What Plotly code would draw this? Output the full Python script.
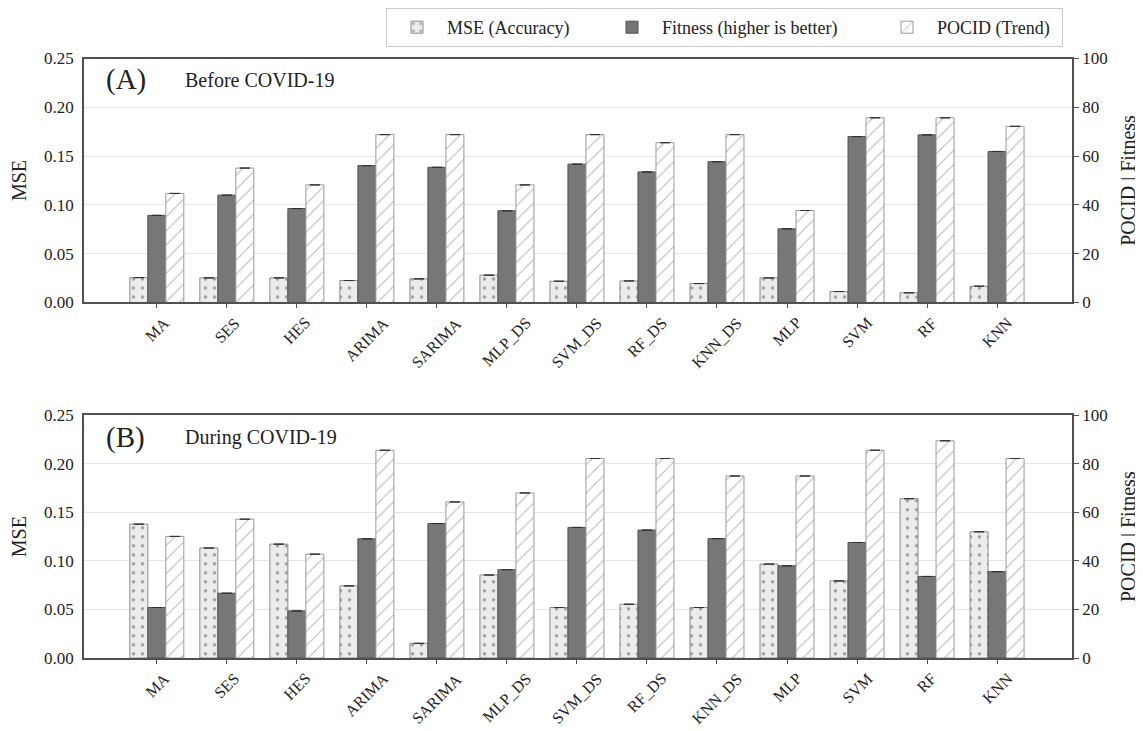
import plotly.graph_objects as go
from plotly.subplots import make_subplots

models = ["MA", "SES", "HES", "ARIMA", "SARIMA", "MLP_DS", "SVM_DS", "RF_DS",
          "KNN_DS", "MLP", "SVM", "RF", "KNN"]

mse_before = [0.0255, 0.0252, 0.0252, 0.0225, 0.0242, 0.0280, 0.0218, 0.0221,
              0.0194, 0.0252, 0.0112, 0.0099, 0.0167]
fitness_before = [35.7, 44.0, 38.5, 56.1, 55.4, 37.6, 56.7, 53.5, 57.7, 30.2,
                  68.0, 68.7, 61.9]
pocid_before = [44.7, 55.1, 48.2, 68.8, 68.8, 48.2, 68.8, 65.5, 68.8, 37.7,
                75.7, 75.7, 72.2]

mse_during = [0.1379, 0.1133, 0.1173, 0.0743, 0.0151, 0.0855, 0.0520, 0.0554,
              0.0520, 0.0968, 0.0794, 0.1641, 0.1300]
fitness_during = [20.8, 26.7, 19.4, 49.1, 55.4, 36.4, 53.8, 52.7, 49.2, 38.0,
                  47.6, 33.6, 35.6]
pocid_during = [50.1, 57.2, 42.8, 85.6, 64.3, 68.0, 82.2, 82.2, 75.0, 75.0,
                85.6, 89.5, 82.2]

series_names = ["MSE (Accuracy)", "Fitness (higher is better)", "POCID (Trend)"]
panel_labels = ["(A)", "(B)"]
panel_titles = ["Before COVID-19", "During COVID-19"]

FONT = "Liberation Serif"
TXT = "#222222"
OFF = 8                      # page body margin
W, H = 1143 - OFF, 731 - OFF
BW = 0.257

def fy(screen_y):
    """screen pixel y -> paper fraction"""
    return 1 - (screen_y - OFF) / H

PL, PR = 84, 1072            # plot area left/right on screen

fig = make_subplots(rows=2, cols=1,
                    specs=[[{"secondary_y": True}], [{"secondary_y": True}]])

panels = [(mse_before, fitness_before, pocid_before),
          (mse_during, fitness_during, pocid_during)]

def cap():
    return dict(type="data", array=[0] * len(models), visible=True,
                width=5, thickness=1, color="#333333")

legend_w = [150, 210, 120]

for r, (mse, fit, poc) in enumerate(panels, start=1):
    show = r == 1
    fig.add_trace(go.Bar(
        x=models, y=mse, name=series_names[0], legendgroup="mse", showlegend=show,
        legendwidth=legend_w[0],
        offset=-1.5 * BW, width=BW,
        marker=dict(color="#ececec", line=dict(color="#8a8a8a", width=1),
                    pattern=dict(shape=".", fgcolor="#555555", bgcolor="#ececec",
                                 size=9, solidity=0.12)),
        error_y=cap()), row=r, col=1, secondary_y=False)
    fig.add_trace(go.Bar(
        x=models, y=fit, name=series_names[1], legendgroup="fit", showlegend=show,
        legendwidth=legend_w[1],
        offset=-0.5 * BW, width=BW,
        marker=dict(color="#777777", line=dict(color="#505050", width=1)),
        error_y=cap()), row=r, col=1, secondary_y=True)
    fig.add_trace(go.Bar(
        x=models, y=poc, name=series_names[2], legendgroup="poc", showlegend=show,
        legendwidth=legend_w[2],
        offset=0.5 * BW, width=BW,
        marker=dict(color="white", line=dict(color="#9a9a9a", width=1),
                    pattern=dict(shape="/", fgcolor="#707070", bgcolor="white",
                                 size=10, solidity=0.1)),
        error_y=cap()), row=r, col=1, secondary_y=True)

dom_a = [fy(300.7), fy(55.7)]
dom_b = [fy(657.7), fy(414)]

axis_common = dict(showline=True, linecolor="#505050", linewidth=1.6)
tickfont = dict(family=FONT, size=17, color=TXT)

annotations = []
for i, dom in ((1, dom_a), (2, dom_b)):
    xa = "xaxis" if i == 1 else "xaxis2"
    yl = "yaxis" if i == 1 else "yaxis3"
    yr = "yaxis2" if i == 1 else "yaxis4"
    fig.layout[xa].update(range=[-1.04, 13.07], ticks="outside", ticklen=4,
                          tickcolor="#555555", showticklabels=False,
                          mirror=True, showgrid=False, automargin=False,
                          **axis_common)
    fig.layout[yl].update(domain=dom, range=[0, 0.25], dtick=0.05,
                          tickformat=".2f", showgrid=True, gridcolor="#e6e6e6",
                          gridwidth=1, ticks="outside", ticklen=5,
                          tickcolor="rgba(0,0,0,0)", tickfont=tickfont,
                          title=dict(text="MSE", font=dict(family=FONT, size=20,
                                                           color=TXT),
                                     standoff=20),
                          zeroline=False, automargin=False, **axis_common)
    fig.layout[yr].update(range=[0, 100], dtick=20, showgrid=False,
                          ticks="outside", ticklen=5, tickcolor="#555555",
                          tickfont=tickfont,
                          title=dict(text="POCID | Fitness",
                                     font=dict(family=FONT, size=20, color=TXT),
                                     standoff=14),
                          zeroline=False, automargin=False, **axis_common)
    xref = "x" if i == 1 else "x2"
    yref = ("y" if i == 1 else "y3") + " domain"
    for m in models:
        annotations.append(dict(text=m, x=m, xref=xref, y=0, yref=yref,
                                xanchor="center", yanchor="top", textangle=-45,
                                yshift=-9, showarrow=False,
                                font=dict(family=FONT, size=16, color=TXT)))

fig.layout.xaxis.domain = [0, 1]
fig.layout.xaxis2.domain = [0, 1]

for lab, ttl, yc in ((panel_labels[0], panel_titles[0], 77),
                     (panel_labels[1], panel_titles[1], 436)):
    annotations.append(dict(text=lab, x=(104 - PL) / (PR - PL), y=fy(yc),
                            xref="paper", yref="paper", xanchor="left",
                            yanchor="middle", showarrow=False,
                            font=dict(family=FONT, size=29, color=TXT)))
    annotations.append(dict(text=ttl, x=(183 - PL) / (PR - PL), y=fy(yc),
                            xref="paper", yref="paper", xanchor="left",
                            yanchor="middle", showarrow=False,
                            font=dict(family=FONT, size=20, color=TXT)))

fig.update_layout(
    width=W, height=H,
    margin=dict(l=PL - OFF, r=W - (PR - OFF), t=0, b=0),
    paper_bgcolor="white", plot_bgcolor="white",
    barmode="overlay",
    font=dict(family=FONT, size=16, color=TXT),
    annotations=annotations,
    legend=dict(orientation="h", x=(1063 - PL) / (PR - PL), xanchor="right",
                y=fy(5), yanchor="top", itemwidth=50,
                bordercolor="#cccccc", borderwidth=1, bgcolor="white",
                font=dict(family=FONT, size=18, color=TXT),
                traceorder="normal"),
    showlegend=True,
)

fig.write_html("out.html")
